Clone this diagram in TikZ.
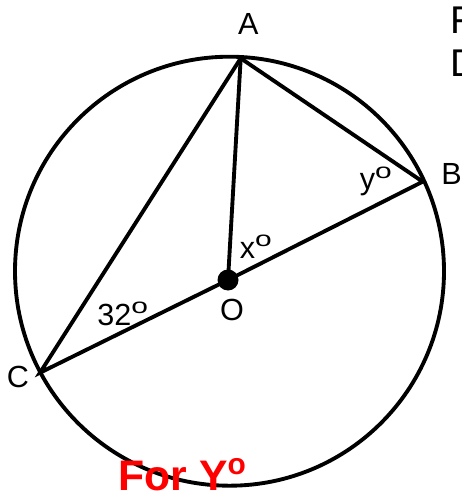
\documentclass[tikz,border=0pt]{standalone}
\usepackage{fontspec}
\setmainfont{Liberation Sans}
\usetikzlibrary{positioning}
\newcommand{\dego}{\textsuperscript{\scalebox{1.4}[1]{o}}}

\begin{document}
\begin{tikzpicture}[x=0.02cm, y=-0.02cm, line width=2.2pt,
    lbl/.style={font=\fontsize{17.4}{20}\selectfont, inner sep=0pt},
    deg/.style={lbl, anchor=base west}]
    \clip (0,0) rectangle (461,493);

    % points on the circle
    \coordinate (M) at (229.5,271.2);
    \coordinate (A) at (240.7,58.3);
    \coordinate (B) at (422.7,181.7);
    \coordinate (C) at (40,372.7);
    \coordinate (O) at (228,280);

    % circle, chords and radius
    \draw (M) circle (214.5);
    \draw (C) -- (A) -- (B) -- (O) -- cycle;
    \draw (A) -- (O);
    \fill (O) circle (10.5);

    % point labels
    \node[lbl] (lA) at (248.3,24.2) {A};
    \node[lbl] (lB) at (451.5,174) {B};
    \node[lbl] (lC) at (17.8,377) {C};
    \node[lbl] (lO) at (232,309.5) {O};

    % angle labels
    \node[deg] (lx) at (238,258) {x\dego};
    \node[deg] (ly) at (358,189.3) {y\dego};
    \node[deg] (l32) at (95.5,325) {32\dego};

    % cut-off text on the right
    \node[anchor=base west, inner sep=0pt, font=\fontsize{22}{26}\selectfont] (tF) at (448.5,33.3) {F};
    \node[anchor=base west, inner sep=0pt, font=\fontsize{22}{26}\selectfont] (tD) at (448.5,76.7) {D};

    % red note
    \node[anchor=base west, inner sep=0pt, text=red, font=\fontsize{24.3}{28}\selectfont\bfseries] (note) at (116.5,490) {For Y\textsuperscript{o}};
\end{tikzpicture}
\end{document}
